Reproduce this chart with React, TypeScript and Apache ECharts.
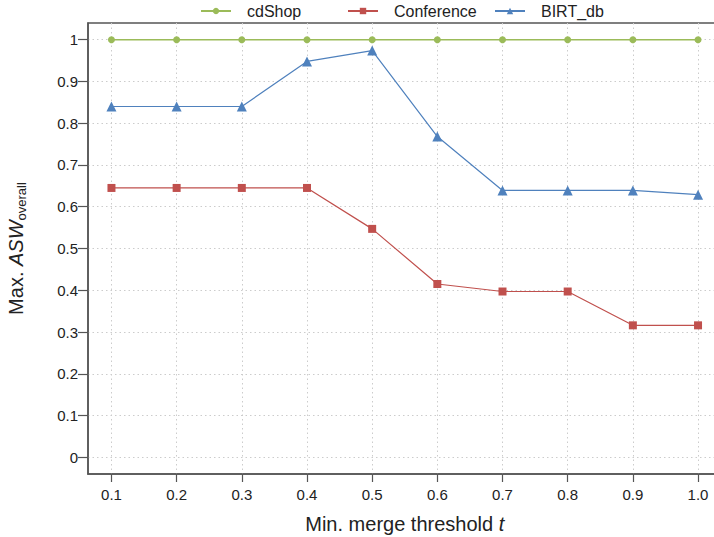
import React, { useEffect, useRef } from "react";
import * as echarts from "echarts";

// thresholds t on the x axis
const thresholds = [0.1, 0.2, 0.3, 0.4, 0.5, 0.6, 0.7, 0.8, 0.9, 1.0];
// best ASW_overall per dataset
const cdShop = [1, 1, 1, 1, 1, 1, 1, 1, 1, 1];
const conference = [0.645, 0.645, 0.645, 0.645, 0.547, 0.415, 0.397, 0.397, 0.316, 0.316];
const birtDb = [0.84, 0.84, 0.84, 0.948, 0.974, 0.768, 0.639, 0.639, 0.639, 0.629];
// tick positions
const yTicks = [0, 0.1, 0.2, 0.3, 0.4, 0.5, 0.6, 0.7, 0.8, 0.9, 1];
const xTicks = thresholds;

const FONT = "'Liberation Sans', Arial, sans-serif";
const NARROW = "'Liberation Sans Narrow', 'Liberation Sans', Arial, sans-serif";
const GREEN = "#9BBB59";
const RED = "#C0504D";
const BLUE = "#4F81BD";
const AXIS = "#555555";
const TEXT = "#222222";

const pairs = (ys: number[]) => thresholds.map((x, i) => [x, ys[i]]);

const legendAt = (name: string, left: number) => ({
  data: [name],
  left,
  top: 3,
  padding: 0,
  itemWidth: 30,
  itemHeight: 8,
  textStyle: { fontFamily: FONT, fontSize: 16, color: TEXT, padding: [0, 0, 0, 11] },
});

export default function App() {
  const ref = useRef<HTMLDivElement>(null);

  useEffect(() => {
    if (!ref.current) return;
    const chart = echarts.init(ref.current, null, { renderer: "svg" });
    chart.setOption({
      animation: false,
      backgroundColor: "#ffffff",
      legend: [legendAt("cdShop", 200), legendAt("Conference", 347), legendAt("BIRT_db", 494)],
      grid: {
        left: 88,
        top: 23,
        width: 633.5,
        height: 451,
        outerBoundsMode: "none",
        containLabel: false,
        show: true,
        borderColor: AXIS,
        borderWidth: 1.5,
        backgroundColor: "transparent",
      },
      xAxis: {
        type: "value",
        min: 0.064,
        max: 1.036,
        name: "{n|Min. merge threshold }{i|t}",
        nameLocation: "middle",
        nameGap: 40,
        nameTextStyle: {
          rich: {
            n: { fontFamily: FONT, fontSize: 20, color: TEXT },
            i: { fontFamily: FONT, fontSize: 20, color: TEXT, fontStyle: "italic" },
          },
        },
        axisLine: { show: true, onZero: false, lineStyle: { color: AXIS, width: 1.5 } },
        axisTick: { show: true, length: 8, customValues: xTicks, lineStyle: { color: AXIS, width: 1.2 } },
        axisLabel: {
          customValues: xTicks,
          formatter: (v: number) => v.toFixed(1),
          fontFamily: FONT,
          fontSize: 15,
          color: TEXT,
          margin: 13,
        },
        splitLine: { show: true, lineStyle: { color: "#cccccc", type: [1.5, 3], width: 1 } },
      },
      yAxis: {
        type: "value",
        min: -0.04,
        max: 1.04,
        name: "{n|Max. }{a|ASW}{s|overall}",
        nameLocation: "middle",
        nameRotate: 90,
        nameGap: 60,
        nameTextStyle: {
          rich: {
            n: { fontFamily: NARROW, fontSize: 20, color: TEXT, lineHeight: 24 },
            a: { fontFamily: NARROW, fontSize: 20, color: TEXT, fontStyle: "italic", lineHeight: 24 },
            s: { fontFamily: NARROW, fontSize: 13, color: TEXT, lineHeight: 14, verticalAlign: "bottom" },
          },
        },
        axisLine: { show: true, onZero: false, lineStyle: { color: AXIS, width: 1.5 } },
        axisTick: { show: true, length: 10, customValues: yTicks, lineStyle: { color: AXIS, width: 1.2 } },
        axisLabel: {
          customValues: yTicks,
          formatter: (v: number) => String(Math.round(v * 10) / 10),
          fontFamily: FONT,
          fontSize: 15,
          color: TEXT,
          margin: 10,
        },
        splitLine: { show: true, lineStyle: { color: "#cccccc", type: [1.5, 3], width: 1 } },
      },
      series: [
        {
          name: "cdShop",
          type: "line",
          data: pairs(cdShop),
          symbol: "circle",
          symbolSize: 7,
          itemStyle: { color: GREEN },
          lineStyle: { color: GREEN, width: 1.5 },
          z: 3,
        },
        {
          name: "Conference",
          type: "line",
          data: pairs(conference),
          symbol: "rect",
          symbolSize: 8,
          itemStyle: { color: RED },
          lineStyle: { color: RED, width: 1.2 },
          z: 4,
        },
        {
          name: "BIRT_db",
          type: "line",
          data: pairs(birtDb),
          symbol: "triangle",
          symbolSize: 10,
          itemStyle: { color: BLUE },
          lineStyle: { color: BLUE, width: 1.2 },
          z: 5,
        },
      ],
    });
    return () => chart.dispose();
  }, []);

  return (
    <div
      ref={ref}
      style={{ position: "fixed", left: 0, top: 0, width: 714, height: 537, background: "#fff" }}
    />
  );
}
